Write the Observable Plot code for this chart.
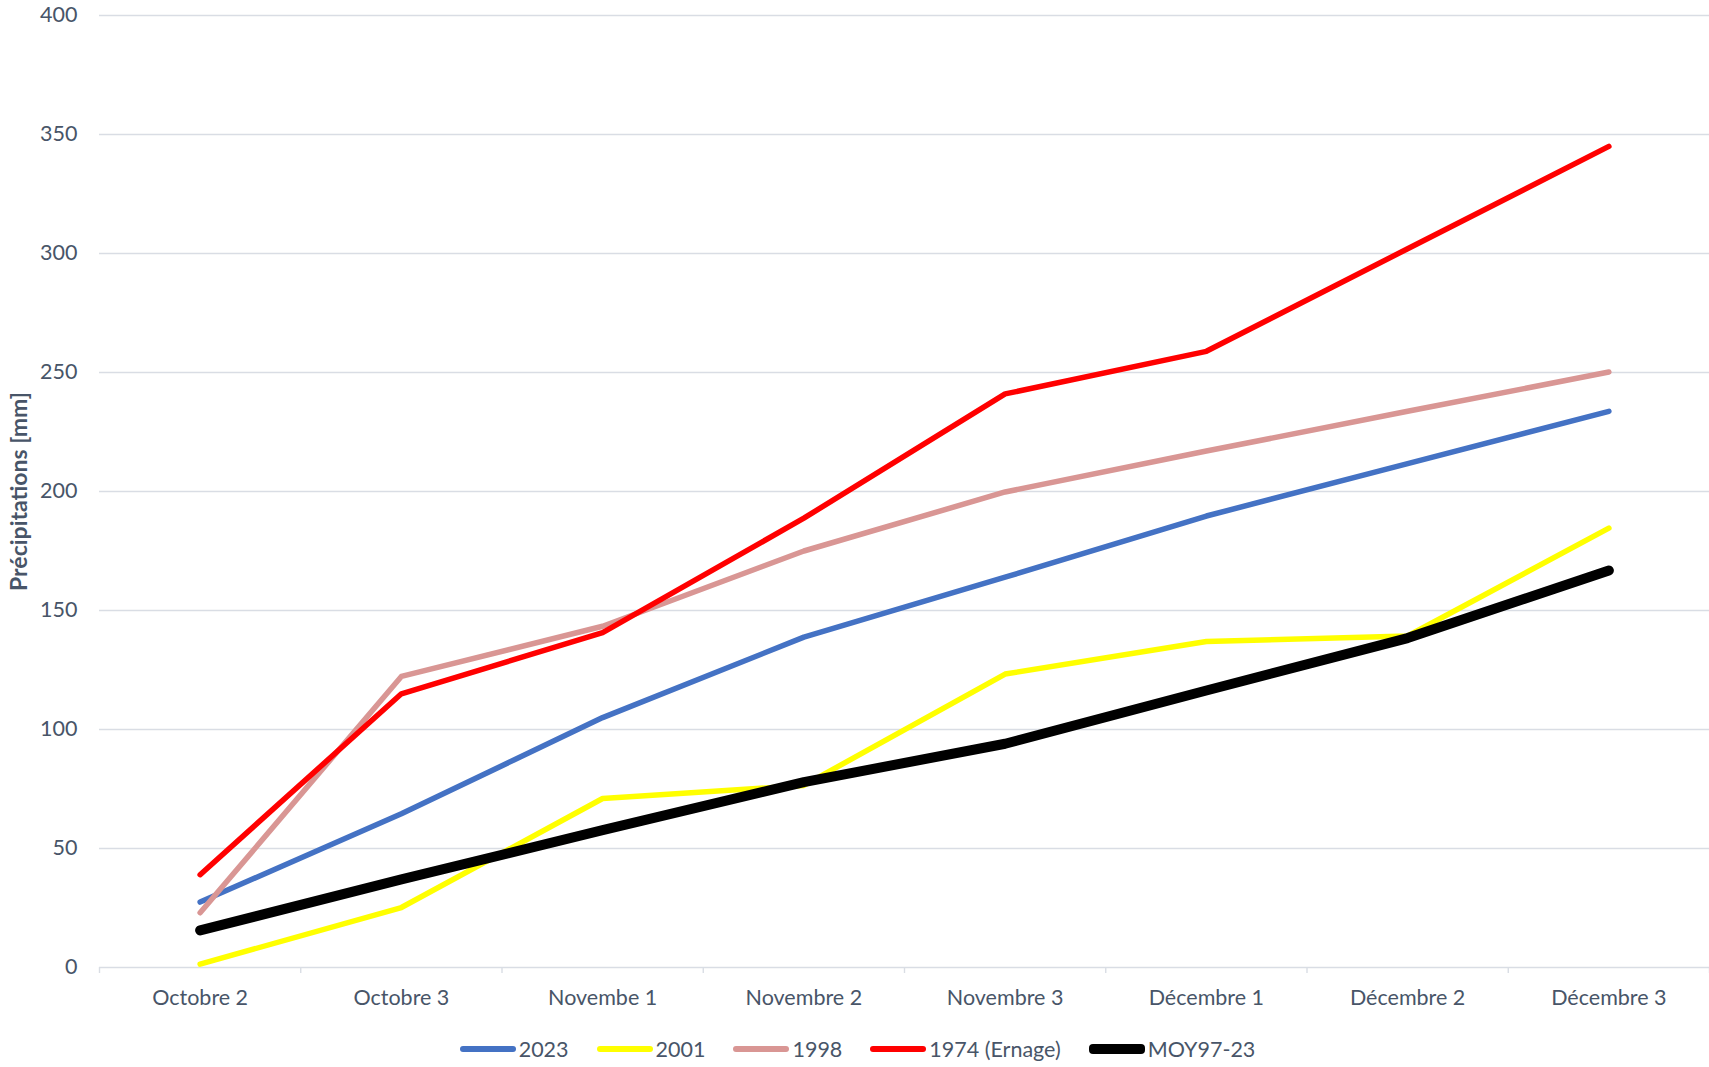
<!DOCTYPE html>
<html>
<head>
<meta charset="utf-8">
<script src="https://cdn.jsdelivr.net/npm/d3@7"></script>
<script src="https://cdn.jsdelivr.net/npm/@observablehq/plot@0.6"></script>
<style>
  html, body { margin: 0; padding: 0; background: #fff; }
  body { width: 1709px; height: 1067px; overflow: hidden; font-family: Lato, "Open Sans", sans-serif; }
  #chart { position: relative; }
  #legend { display: flex; justify-content: center; align-items: center; height: 48px; margin-left: 6px; }
  .item { display: flex; align-items: center; margin-right: 28px; }
  .item:last-child { margin-right: 0; }
  .sw { width: 56px; border-radius: 4px; margin-right: 3px; }
  .lb { font-family: Lato, sans-serif; font-size: 21.5px; color: #485568; }
</style>
</head>
<body>
<div id="chart"></div>
<div id="legend"></div>
<script>
// ---- data ----
const categories = ["Octobre 2", "Octobre 3", "Novembe 1", "Novembre 2", "Novembre 3", "Décembre 1", "Décembre 2", "Décembre 3"];
const seriesNames = ["2023", "2001", "1998", "1974 (Ernage)", "MOY97-23"];
const values2023 = [27.5, 64.6, 105, 138.8, 164, 189.7, 211.7, 233.7];
const values2001 = [1.4, 25.2, 71, 76.5, 123.3, 137, 139.3, 184.6];
const values1998 = [23, 122.3, 143.4, 175, 199.8, 217, 233.7, 250.2];
const values1974 = [39, 115, 140.7, 188.8, 241, 258.9, 302, 345];
const valuesMoy = [15.6, 37, 57.7, 77.9, 94, 116.4, 138.4, 166.8];
const yTicks = [0, 50, 100, 150, 200, 250, 300, 350, 400];
const yLabel = "Précipitations [mm]";

// ---- styles (kept apart from data) ----
const colors = ["#4472C4", "#FFFF00", "#D99694", "#FF0000", "#000000"];
const widths = [5.5, 5.5, 5.5, 5.5, 10];
const allValues = [values2023, values2001, values1998, values1974, valuesMoy];

const rows = [];
allValues.forEach((vals, s) => vals.forEach((v, i) => rows.push({series: seriesNames[s], idx: i, value: v})));

const textColor = "#485568";
const gridColor = "#D9DDE4";
const idx = categories.map((_, i) => i);
const bounds = d3.range(categories.length + 1).map(i => i - 0.5);

const plot = Plot.plot({
  width: 1709,
  height: 1025,
  marginLeft: 99,
  marginRight: 0,
  marginTop: 15,
  marginBottom: 58,
  style: {fontFamily: "Lato, sans-serif", background: "#fff", overflow: "visible"},
  x: {type: "linear", domain: [-0.5, categories.length - 0.5]},
  y: {domain: [0, 400]},
  marks: [
    Plot.gridY(yTicks, {stroke: gridColor, strokeOpacity: 1, strokeWidth: 1.4}),
    Plot.axisY({ticks: yTicks, tickSize: 0, tickPadding: 22, fontSize: 21.5, color: textColor, label: null}),
    Plot.axisX({ticks: bounds, tickSize: 6, stroke: gridColor, strokeWidth: 1.4, tickFormat: () => "", label: null}),
    Plot.axisX({ticks: idx, tickSize: 0, tickPadding: 22, tickFormat: i => categories[i], fontSize: 21.5, color: textColor, label: null}),
    ...seriesNames.map((name, s) =>
      Plot.line(rows.filter(r => r.series === name), {
        x: "idx", y: "value", stroke: colors[s], strokeWidth: widths[s],
        strokeLinecap: "round", strokeLinejoin: "round", curve: "linear"
      })
    ),
    Plot.text([yLabel], {
      frameAnchor: "left", dx: -80, rotate: -90, text: d => d, textAnchor: "middle",
      fontSize: 23, fontWeight: "bold", fill: textColor
    })
  ]
});
document.getElementById("chart").appendChild(plot);

// ---- legend ----
const legend = document.getElementById("legend");
seriesNames.forEach((name, s) => {
  const item = document.createElement("div");
  item.className = "item";
  const sw = document.createElement("div");
  sw.className = "sw";
  sw.style.background = colors[s];
  sw.style.height = (s === 4 ? 10 : 6) + "px";
  const lb = document.createElement("span");
  lb.className = "lb";
  lb.textContent = name;
  item.appendChild(sw);
  item.appendChild(lb);
  legend.appendChild(item);
});
</script>
</body>
</html>
